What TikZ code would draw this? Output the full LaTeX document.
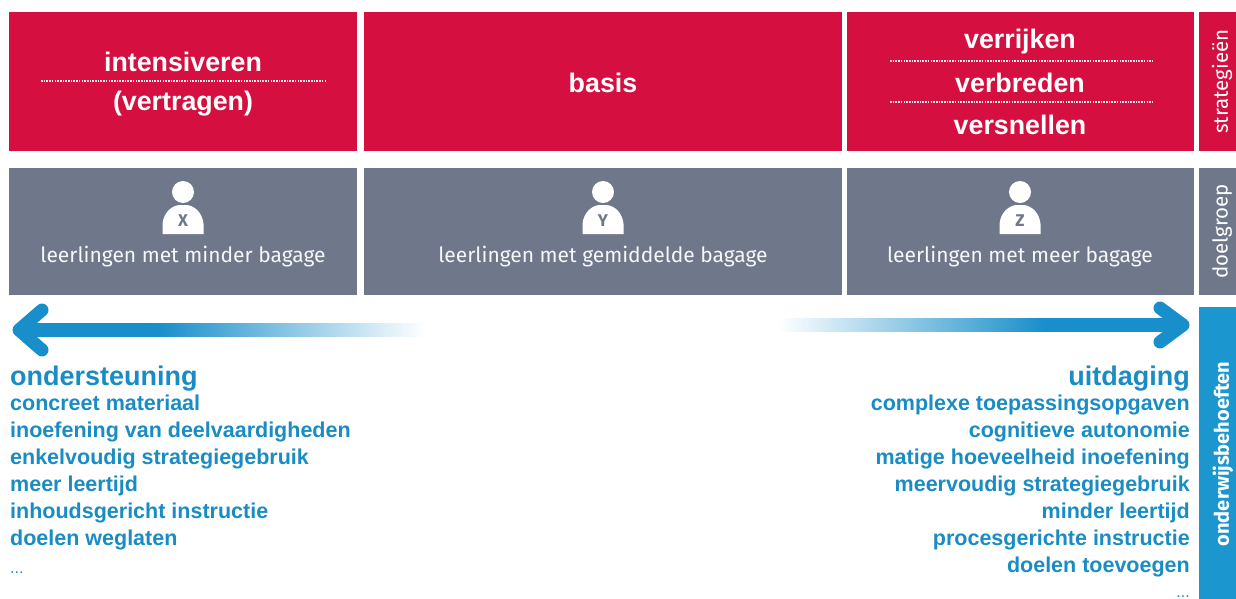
\documentclass[tikz,border=0pt]{standalone}
\usepackage{fontspec}
\setmainfont{Liberation Sans}
\newfontfamily\fira{Fira Sans}
\usetikzlibrary{calc}
\usetikzlibrary{positioning}
\usepackage{xcolor}
\definecolor{rood}{RGB}{213,15,63}
\definecolor{grijs}{RGB}{111,120,138}
\definecolor{blauw}{RGB}{26,140,196}
\definecolor{zijblauw}{RGB}{27,150,207}
\definecolor{pijlblauw}{RGB}{24,142,202}
\pgfdeclarehorizontalshading{vervaaglinks}{100bp}{color(0bp)=(pijlblauw); color(25bp)=(pijlblauw); color(42bp)=(pijlblauw); color(75bp)=(white); color(100bp)=(white)}
\pgfdeclarehorizontalshading{vervaagrechts}{100bp}{color(0bp)=(white); color(25bp)=(white); color(58bp)=(pijlblauw); color(75bp)=(pijlblauw); color(100bp)=(pijlblauw)}

\begin{document}
\begin{tikzpicture}[x=1pt,y=-1pt,
  vak/.style={inner sep=0pt, anchor=north west, draw=none},
  rodetekst/.style={text=white, font=\bfseries\fontsize{26.8}{28}\selectfont, inner sep=0pt},
  grijstekst/.style={text=white!94!grijs, font=\fira\fontsize{21}{24}\selectfont, inner sep=0pt},
  zijtekst/.style={text=white, font=\fira\fontsize{20.5}{22}\selectfont, inner sep=0pt, rotate=90},
  kop/.style={text=blauw, font=\bfseries\fontsize{27}{28}\selectfont, inner sep=0pt},
  punt/.style={text=blauw, font=\bfseries\fontsize{21.5}{24}\selectfont, inner sep=0pt},
  scheiding/.style={white!92!rood, line width=1.6pt, dash pattern=on 1.6pt off 1.1pt},
  pijlkop/.style={pijlblauw, line width=13pt, line cap=round, line join=round},
  pics/leerling/.style={code={
    \fill[white] (0,-42) circle (11);
    \fill[white] (-20.5,0) -- (-20.5,-10) .. controls (-19.5,-21) and (-12,-28) .. (-4,-29)
      -- (4,-29) .. controls (12,-28) and (19.5,-21) .. (20.5,-10) -- (20.5,0) -- cycle;
    \node[text=grijs, font=\fira\bfseries\fontsize{17}{17}\selectfont, inner sep=0pt] (-letter) at (0,-13) {#1};
  }}
]
\useasboundingbox (0,0) rectangle (1236,598);

\node[vak, fill=rood, minimum width=348, minimum height=139] (S1) at (9,12) {};
\node[vak, fill=rood, minimum width=478, minimum height=139] (S2) at (364,12) {};
\node[vak, fill=rood, minimum width=347, minimum height=139] (S3) at (847,12) {};
\node[vak, fill=rood, minimum width=42, minimum height=139] (S4) at (1199,12) {};

\node[rodetekst] (S1a) at (183,62) {intensiveren};
\node[rodetekst] (S1b) at (183,104) {(vertragen)};
\draw[scheiding] (41,81) -- (326,81);

\node[rodetekst] (S2a) at (603,83) {basis};

\node[rodetekst] (S3a) at (1020,42) {verrijken};
\node[rodetekst] (S3b) at (1020,83) {verbreden};
\node[rodetekst] (S3c) at (1020,125) {versnellen};
\draw[scheiding] (890,61) -- (1152,61);
\draw[scheiding] (890,102) -- (1152,102);

\node[zijtekst] (L1) at (1222,81.5) {strategieën};

\node[vak, fill=grijs, minimum width=348, minimum height=127] (D1) at (9,168) {};
\node[vak, fill=grijs, minimum width=478, minimum height=127] (D2) at (364,168) {};
\node[vak, fill=grijs, minimum width=347, minimum height=127] (D3) at (847,168) {};
\node[vak, fill=grijs, minimum width=42, minimum height=127] (D4) at (1199,168) {};

\pic (P1) at (183,234) {leerling=X};
\pic (P2) at (603,234) {leerling=Y};
\pic (P3) at (1020,234) {leerling=Z};

\node[grijstekst] (D1t) at (183,257) {leerlingen met minder bagage};
\node[grijstekst] (D2t) at (603,257) {leerlingen met gemiddelde bagage};
\node[grijstekst] (D3t) at (1020,257) {leerlingen met meer bagage};

\node[zijtekst] (L2) at (1222,231.5) {doelgroep};

\node[vak, fill=zijblauw, minimum width=42, minimum height=295] (B4) at (1199,307) {};
\node[zijtekst, font=\fira\bfseries\fontsize{20}{22}\selectfont] (L3) at (1223,454) {onderwijsbehoeften};

\shade[shading=vervaaglinks] (19,323.5) rectangle (425,336.5);
\draw[pijlkop] (42,310) -- (19,330) -- (42,350);

\shade[shading=vervaagrechts] (778,318.5) rectangle (1183,331.5);
\draw[pijlkop] (1160,308) -- (1183,325) -- (1160,342);

\node[kop, anchor=base west] (O0) at (10,385) {ondersteuning};
\node[punt, anchor=base west] (O1) at (10,410) {concreet materiaal};
\node[punt, anchor=base west] (O2) at (10,437) {inoefening van deelvaardigheden};
\node[punt, anchor=base west] (O3) at (10,464) {enkelvoudig strategiegebruik};
\node[punt, anchor=base west] (O4) at (10,491) {meer leertijd};
\node[punt, anchor=base west] (O5) at (10,518) {inhoudsgericht instructie};
\node[punt, anchor=base west] (O6) at (10,545) {doelen weglaten};
\node[punt, anchor=base west, font=\fontsize{16}{18}\selectfont] (O7) at (10,573) {...};

\node[kop, anchor=base east] (U0) at (1190,385) {uitdaging};
\node[punt, anchor=base east] (U1) at (1190,410) {complexe toepassingsopgaven};
\node[punt, anchor=base east] (U2) at (1190,437) {cognitieve autonomie};
\node[punt, anchor=base east] (U3) at (1190,464) {matige hoeveelheid inoefening};
\node[punt, anchor=base east] (U4) at (1190,491) {meervoudig strategiegebruik};
\node[punt, anchor=base east] (U5) at (1190,518) {minder leertijd};
\node[punt, anchor=base east] (U6) at (1190,545) {procesgerichte instructie};
\node[punt, anchor=base east] (U7) at (1190,572) {doelen toevoegen};
\node[punt, anchor=base east, font=\fontsize{16}{18}\selectfont] (U8) at (1190,597) {...};

\end{tikzpicture}
\end{document}
